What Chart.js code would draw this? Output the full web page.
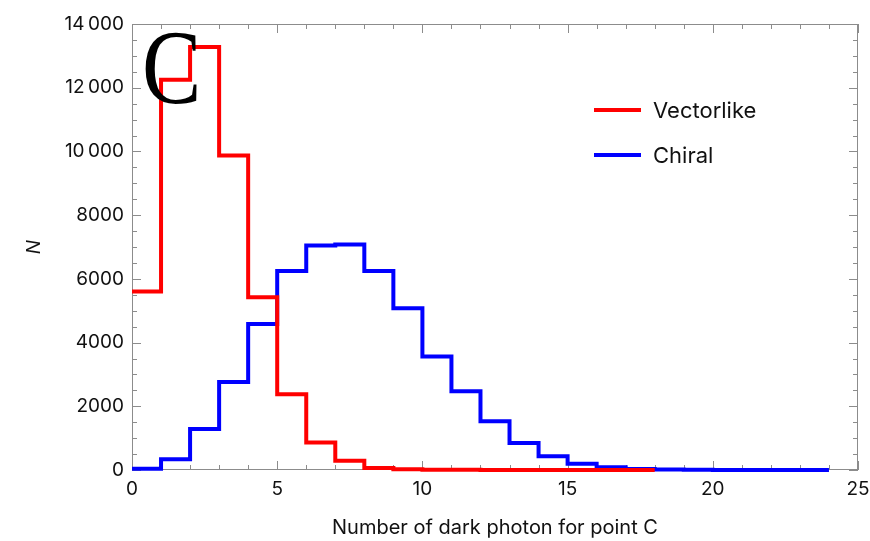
<!DOCTYPE html>
<html>
<head>
<meta charset="utf-8">
<script src="https://cdn.jsdelivr.net/npm/chart.js@4.4.1/dist/chart.umd.min.js"></script>
<style>
  html, body { margin: 0; padding: 0; background: #fff; }
  #wrap { width: 870px; height: 541px; position: relative; }
</style>
</head>
<body>
<div id="wrap"><canvas id="hist"></canvas></div>
<script>
// bin contents, one value per unit-wide bin starting at 0
const vectorlike = [5600, 12250, 13280, 9870, 5420, 2380, 860, 290, 60, 20, 8, 4, 2, 1, 0, 0, 0, 0];
const chiral = [40, 340, 1290, 2760, 4580, 6250, 7050, 7080, 6250, 5080, 3560, 2470, 1530, 850, 430, 200, 90, 30, 12, 6, 3, 2, 1, 0];
const seriesNames = ['Vectorlike', 'Chiral'];
const seriesColors = ['#ff0000', '#0000ff'];
const xTicks = [0, 5, 10, 15, 20, 25];
const yTicks = [0, 2000, 4000, 6000, 8000, 10000, 12000, 14000];
const panelLabel = 'C';

const FONT = 'Inter, "Liberation Sans", Arial, sans-serif';

// left bin edges plus the closing edge, for a stepped outline
function toSteps(values) {
    const pts = values.map((v, i) => ({ x: i, y: v }));
    pts.push({ x: values.length, y: values[values.length - 1] });
    return pts;
}

function fmtThousands(v) {
    if (v >= 10000) {
        const s = String(v);
        return s.slice(0, s.length - 3) + '\u2009' + s.slice(-3);
    }
    return String(v);
}

// frame with inward ticks on all four sides
const framePlugin = {
    id: 'frame',
    beforeDatasetsDraw(chart) {
        const { ctx, chartArea: a, scales: { x, y } } = chart;
        ctx.save();
        ctx.strokeStyle = '#8c8c8c';
        ctx.lineWidth = 1;
        ctx.strokeRect(a.left + 0.5, a.top + 0.5, a.right - a.left - 1, a.bottom - a.top - 1);
        ctx.beginPath();
        for (let v = 0; v <= 25; v++) {
            const px = Math.round(x.getPixelForValue(v)) + 0.5;
            const len = v % 5 === 0 ? 9 : 5;
            ctx.moveTo(px, a.bottom); ctx.lineTo(px, a.bottom - len);
            ctx.moveTo(px, a.top); ctx.lineTo(px, a.top + len);
        }
        for (let v = 0; v <= 14000; v += 500) {
            const py = Math.round(y.getPixelForValue(v)) + 0.5;
            const len = v % 2000 === 0 ? 9 : 5;
            ctx.moveTo(a.left, py); ctx.lineTo(a.left + len, py);
            ctx.moveTo(a.right, py); ctx.lineTo(a.right - len, py);
        }
        ctx.stroke();
        ctx.restore();
    }
};

// legend inside the plot and the panel letter
const overlayPlugin = {
    id: 'overlay',
    afterDraw(chart) {
        const { ctx } = chart;
        ctx.save();
        chart.data.datasets.forEach((ds, i) => {
            const yy = 110 + i * 45;
            ctx.strokeStyle = ds.borderColor;
            ctx.lineWidth = 4;
            ctx.beginPath();
            ctx.moveTo(594, yy);
            ctx.lineTo(641, yy);
            ctx.stroke();
            ctx.fillStyle = '#111';
            ctx.font = '22px ' + FONT;
            ctx.textBaseline = 'middle';
            ctx.textAlign = 'left';
            ctx.fillText(ds.label, 653, yy + 1);
        });
        // narrow serif letter in the top-left corner
        ctx.fillStyle = '#000';
        ctx.font = '106px "Liberation Serif", "Times New Roman", serif';
        ctx.textBaseline = 'alphabetic';
        ctx.translate(142, 103);
        ctx.scale(0.84, 1);
        ctx.fillText(panelLabel, 0, 0);
        ctx.restore();
    }
};

new Chart(document.getElementById('hist'), {
    type: 'line',
    data: {
        datasets: [vectorlike, chiral].map((vals, i) => ({
            label: seriesNames[i],
            data: toSteps(vals),
            borderColor: seriesColors[i],
            borderWidth: 4,
            stepped: 'before',
            pointRadius: 0,
            fill: false,
            clip: 6
        }))
    },
    options: {
        responsive: true,
        maintainAspectRatio: false,
        animation: false,
        events: [],
        layout: { padding: { top: 24, right: 12, left: 0, bottom: 0 } },
        plugins: { legend: { display: false }, tooltip: { enabled: false } },
        scales: {
            x: {
                type: 'linear',
                min: 0,
                max: 25,
                afterFit(s) { s.height = 71; s.paddingLeft = 0; s.paddingRight = 0; },
                afterBuildTicks(s) { s.ticks = xTicks.map(v => ({ value: v })); },
                grid: { display: false, drawTicks: false },
                border: { display: false },
                ticks: { color: '#111', font: { family: FONT, size: 19 }, padding: 8 },
                title: {
                    display: true,
                    text: 'Number of dark photon for point C',
                    color: '#111',
                    font: { family: FONT, size: 20 },
                    padding: { top: 0, bottom: 1 }
                }
            },
            y: {
                min: 0,
                max: 14000,
                afterFit(s) { s.width = 132; },
                afterBuildTicks(s) { s.ticks = yTicks.map(v => ({ value: v })); },
                grid: { display: false, drawTicks: false },
                border: { display: false },
                ticks: {
                    color: '#111',
                    font: { family: FONT, size: 19 },
                    padding: 8,
                    callback: v => fmtThousands(v)
                },
                title: {
                    display: true,
                    text: 'N',
                    color: '#111',
                    font: { family: FONT, size: 19, style: 'italic' },
                    padding: { top: 23, bottom: 0 }
                }
            }
        }
    },
    plugins: [framePlugin, overlayPlugin]
});
</script>
</body>
</html>
